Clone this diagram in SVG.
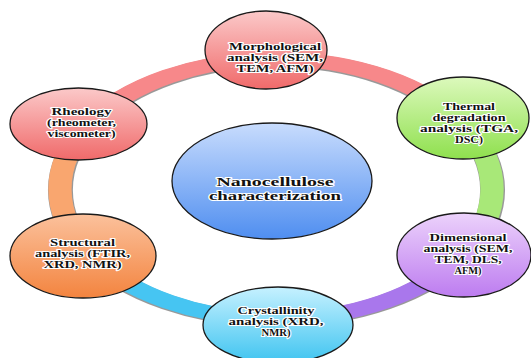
<svg xmlns="http://www.w3.org/2000/svg" width="531" height="358" viewBox="0 0 531 358">
<defs>
<linearGradient id="gRed" x1="0" y1="0" x2="0" y2="1"><stop offset="0" stop-color="#fbc9c9"/><stop offset="1" stop-color="#f06a6a"/></linearGradient>
<linearGradient id="gGreen" x1="0" y1="0" x2="0" y2="1"><stop offset="0" stop-color="#dcf9bc"/><stop offset="1" stop-color="#8fe04e"/></linearGradient>
<linearGradient id="gPurple" x1="0" y1="0" x2="0" y2="1"><stop offset="0" stop-color="#ecd2fb"/><stop offset="1" stop-color="#bd7cf0"/></linearGradient>
<linearGradient id="gCyan" x1="0" y1="0" x2="0" y2="1"><stop offset="0" stop-color="#c6f1ff"/><stop offset="1" stop-color="#3fc4f0"/></linearGradient>
<linearGradient id="gOrange" x1="0" y1="0" x2="0" y2="1"><stop offset="0" stop-color="#fbc19c"/><stop offset="1" stop-color="#f3843f"/></linearGradient>
<linearGradient id="gBlue" x1="0" y1="0" x2="0" y2="1"><stop offset="0" stop-color="#c8dcfd"/><stop offset="1" stop-color="#4f8ef0"/></linearGradient>
</defs>
<style>
.node ellipse{stroke:#1a1a1a;stroke-width:1.3}
.arc{fill:none;stroke-width:14}
.arcsh{fill:none;stroke:#555;stroke-width:15;opacity:0.6}
text{font-family:"Liberation Serif","Times New Roman",serif;font-weight:bold;font-size:10px;fill:#111;text-anchor:middle;paint-order:stroke;stroke:#fff;stroke-width:2px;stroke-linejoin:round}
.big{font-size:12.5px}
</style>
<rect width="531" height="358" fill="#fff"/>
<g id="connectors" transform="translate(276,189) scale(1.662,1)">
<path class="arcsh" d="M-112.58,-64 A130,130 0 0 1 0,-129 M0,-129 A130,130 0 0 1 112.58,-64 M112.9,-64 A130,130 0 0 1 112.9,66 M112.58,66 A130,130 0 0 1 0,131 M0,131 A130,130 0 0 1 -112.58,66 M-112.3,66 A130,130 0 0 1 -112.3,-64"/>
<path class="arc" stroke="#f7888a" d="M-112.58,-65 A130,130 0 0 1 0,-130"/>
<path class="arc" stroke="#f7888a" d="M0,-130 A130,130 0 0 1 112.58,-65"/>
<path class="arc" stroke="#a8e878" d="M112.58,-65 A130,130 0 0 1 112.58,65"/>
<path class="arc" stroke="#a977ec" d="M112.58,65 A130,130 0 0 1 0,130"/>
<path class="arc" stroke="#46c5f2" d="M0,130 A130,130 0 0 1 -112.58,65"/>
<path class="arc" stroke="#f9a66f" d="M-112.58,65 A130,130 0 0 1 -112.58,-65"/>
</g>
<g id="center" class="node">
<ellipse cx="272" cy="181" rx="100" ry="58" fill="url(#gBlue)"/>
<text class="big" x="275" y="186" textLength="117" lengthAdjust="spacingAndGlyphs">Nanocellulose</text>
<text class="big" x="275" y="200" textLength="132" lengthAdjust="spacingAndGlyphs">characterization</text>
</g>
<g id="morphological" class="node">
<ellipse cx="266" cy="50" rx="61" ry="39" fill="url(#gRed)"/>
<text x="275" y="50" textLength="92" lengthAdjust="spacingAndGlyphs">Morphological</text>
<text x="275" y="61" textLength="96" lengthAdjust="spacingAndGlyphs">analysis (SEM,</text>
<text x="275" y="72" textLength="77" lengthAdjust="spacingAndGlyphs">TEM, AFM)</text>
</g>
<g id="thermal" class="node">
<ellipse cx="463" cy="118" rx="66" ry="41" fill="url(#gGreen)"/>
<text x="469" y="109.5" textLength="52" lengthAdjust="spacingAndGlyphs">Thermal</text>
<text x="469" y="120.5" textLength="73" lengthAdjust="spacingAndGlyphs">degradation</text>
<text x="469" y="131.5" textLength="98" lengthAdjust="spacingAndGlyphs">analysis (TGA,</text>
<text x="469" y="142.5" textLength="28" lengthAdjust="spacingAndGlyphs">DSC)</text>
</g>
<g id="dimensional" class="node">
<ellipse cx="464" cy="255" rx="67" ry="42" fill="url(#gPurple)"/>
<text x="468" y="240.5" textLength="77" lengthAdjust="spacingAndGlyphs">Dimensional</text>
<text x="468" y="251.5" textLength="89" lengthAdjust="spacingAndGlyphs">analysis (SEM,</text>
<text x="468" y="262.5" textLength="67" lengthAdjust="spacingAndGlyphs">TEM, DLS,</text>
<text x="468" y="273.5" textLength="27" lengthAdjust="spacingAndGlyphs">AFM)</text>
</g>
<g id="crystallinity" class="node">
<ellipse cx="278" cy="325" rx="75" ry="38" fill="url(#gCyan)"/>
<text x="276" y="314" textLength="77" lengthAdjust="spacingAndGlyphs">Crystallinity</text>
<text x="276" y="325" textLength="95" lengthAdjust="spacingAndGlyphs">analysis (XRD,</text>
<text x="276" y="336" textLength="29" lengthAdjust="spacingAndGlyphs">NMR)</text>
</g>
<g id="structural" class="node">
<ellipse cx="83" cy="256" rx="73" ry="42" fill="url(#gOrange)"/>
<text x="82.5" y="246" textLength="65" lengthAdjust="spacingAndGlyphs">Structural</text>
<text x="82.5" y="257" textLength="95" lengthAdjust="spacingAndGlyphs">analysis (FTIR,</text>
<text x="82.5" y="268" textLength="78" lengthAdjust="spacingAndGlyphs">XRD, NMR)</text>
</g>
<g id="rheology" class="node">
<ellipse cx="78.5" cy="124" rx="68.5" ry="36" fill="url(#gRed)"/>
<text x="81.5" y="115" textLength="60" lengthAdjust="spacingAndGlyphs">Rheology</text>
<text x="81.5" y="126" textLength="69" lengthAdjust="spacingAndGlyphs">(rheometer,</text>
<text x="81.5" y="137" textLength="68" lengthAdjust="spacingAndGlyphs">viscometer)</text>
</g>
</svg>
